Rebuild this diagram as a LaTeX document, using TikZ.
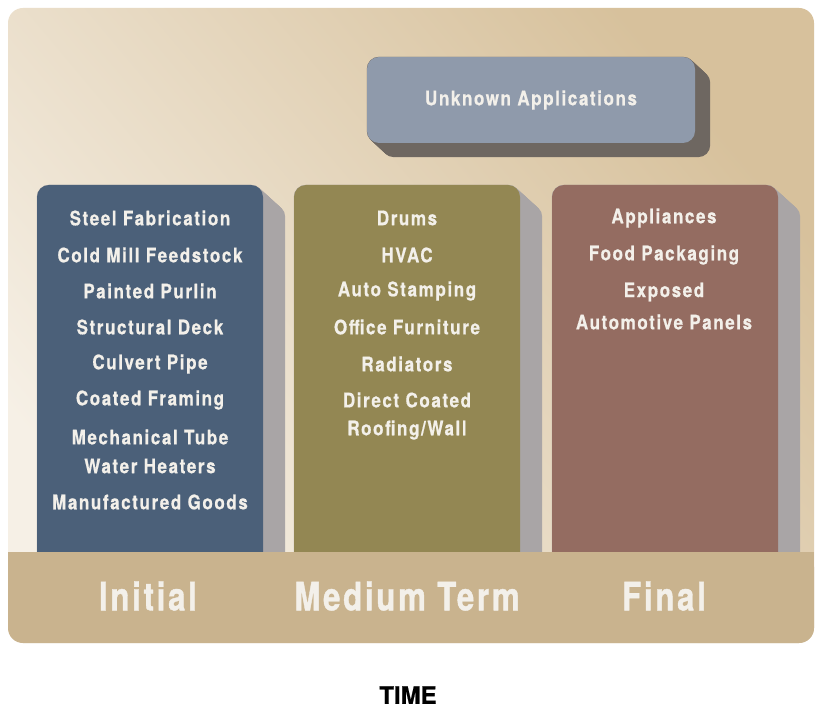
\documentclass[tikz,border=0pt]{standalone}
\usepackage{fontspec}
\setmainfont{TeX Gyre Heros}
\newfontfamily\itemfont{TeX Gyre Heros}[FakeStretch=0.85,LetterSpace=8,FakeBold=0.6]
\newfontfamily\stagefont{TeX Gyre Heros}[FakeStretch=0.8,LetterSpace=7,FakeBold=1]
\newfontfamily\timefont{TeX Gyre Heros}[FakeBold=0.5]
\pgfdeclarelayer{back}
\pgfsetlayers{back,main}
\definecolor{paper}{HTML}{F6F0E6}
\definecolor{sand}{HTML}{D7C19C}
\definecolor{band}{HTML}{C9B38E}
\definecolor{steel}{HTML}{4B6079}
\definecolor{moss}{HTML}{938753}
\definecolor{clay}{HTML}{946C61}
\definecolor{slate}{HTML}{8F9AAB}
\definecolor{greyshadow}{HTML}{A9A5A6}
\definecolor{darkshadow}{HTML}{6E6761}
\definecolor{ink}{HTML}{F3F0EA}
\tikzstyle{column}=[rounded corners=12pt, minimum width=226pt, minimum height=385pt]
\tikzstyle{item}=[text=ink, font=\itemfont\bfseries\fontsize{20}{20}\selectfont]
\tikzstyle{stage}=[text=ink, font=\stagefont\bfseries\fontsize{39}{39}\selectfont]
\tikzstyle{extrude}=[rounded corners=12pt]

\begin{document}
\begin{tikzpicture}[x=1pt,y=-1pt]
\useasboundingbox (0,0) rectangle (816,711);
\begin{pgfonlayer}{back}
\fill[white] (0,0) rectangle (816,711);
\shade[rounded corners=15pt, top color=sand, bottom color=paper, shading angle=-50]
  (8,8) rectangle (814,643);
\end{pgfonlayer}

\node[column, fill=slate, minimum width=328pt, minimum height=86pt] (unknown) at (531,100)
  {}; 
\node[item] (unknowntext) at (unknown) {Unknown Applications};

\node[column, fill=steel] (initialcol) at (150,377.5) {};
\node[column, fill=moss] (mediumcol) at (407,377.5) {};
\node[column, fill=clay] (finalcol) at (665,377.5) {};

% extruded shadows behind the boxes
\begin{pgfonlayer}{back}
\foreach \c in {initialcol,mediumcol,finalcol}
  \foreach \s in {0,1,...,20}
    \fill[extrude, greyshadow] ([xshift=1.1*\s pt, yshift=-\s pt]\c.north west)
      rectangle ([xshift=1.1*\s pt, yshift=-\s pt]\c.south east);
\foreach \s in {0,1,...,15}
  \fill[extrude, darkshadow] ([xshift=\s pt, yshift=-0.93*\s pt]unknown.north west)
    rectangle ([xshift=\s pt, yshift=-0.93*\s pt]unknown.south east);
\end{pgfonlayer}

% initial
\node[item] (steelfab) at (150,218) {Steel Fabrication};
\node[item] (coldmill) at (150,255) {Cold Mill Feedstock};
\node[item] (purlin) at (150,291) {Painted Purlin};
\node[item] (deck) at (150,327) {Structural Deck};
\node[item] (culvert) at (150,364) {Culvert Pipe};
\node[item] (framing) at (150,400) {Coated Framing};
\node[item] (tube) at (150,437) {Mechanical Tube};
\node[item] (heaters) at (150,466) {Water Heaters};
\node[item] (goods) at (150,502) {Manufactured Goods};

% medium term
\node[item] (drums) at (407,218) {Drums};
\node[item] (hvac) at (407,255) {HVAC};
\node[item] (stamping) at (407,291) {Auto Stamping};
\node[item] (furniture) at (407,327) {Office Furniture};
\node[item] (radiators) at (407,364) {Radiators};
\node[item] (direct) at (407,400) {Direct Coated};
\node[item] (roofing) at (407,430) {Roofing/Wall};

% final
\node[item] (appliances) at (664,218) {Appliances};
\node[item] (food) at (664,255) {Food Packaging};
\node[item] (exposed) at (664,292) {Exposed};
\node[item] (panels) at (664,322) {Automotive Panels};

% time band
\fill[band, rounded corners=15pt] (8,552) rectangle (814,643);
\fill[band] (8,552) rectangle (814,590);
\node[stage] (initial) at (148,596) {Initial};
\node[stage] (medium) at (407,596) {Medium Term};
\node[stage] (final) at (664,596) {Final};

\node[font=\timefont\bfseries\fontsize{24}{24}\selectfont] (time) at (408,695) {TIME};
\end{tikzpicture}
\end{document}
